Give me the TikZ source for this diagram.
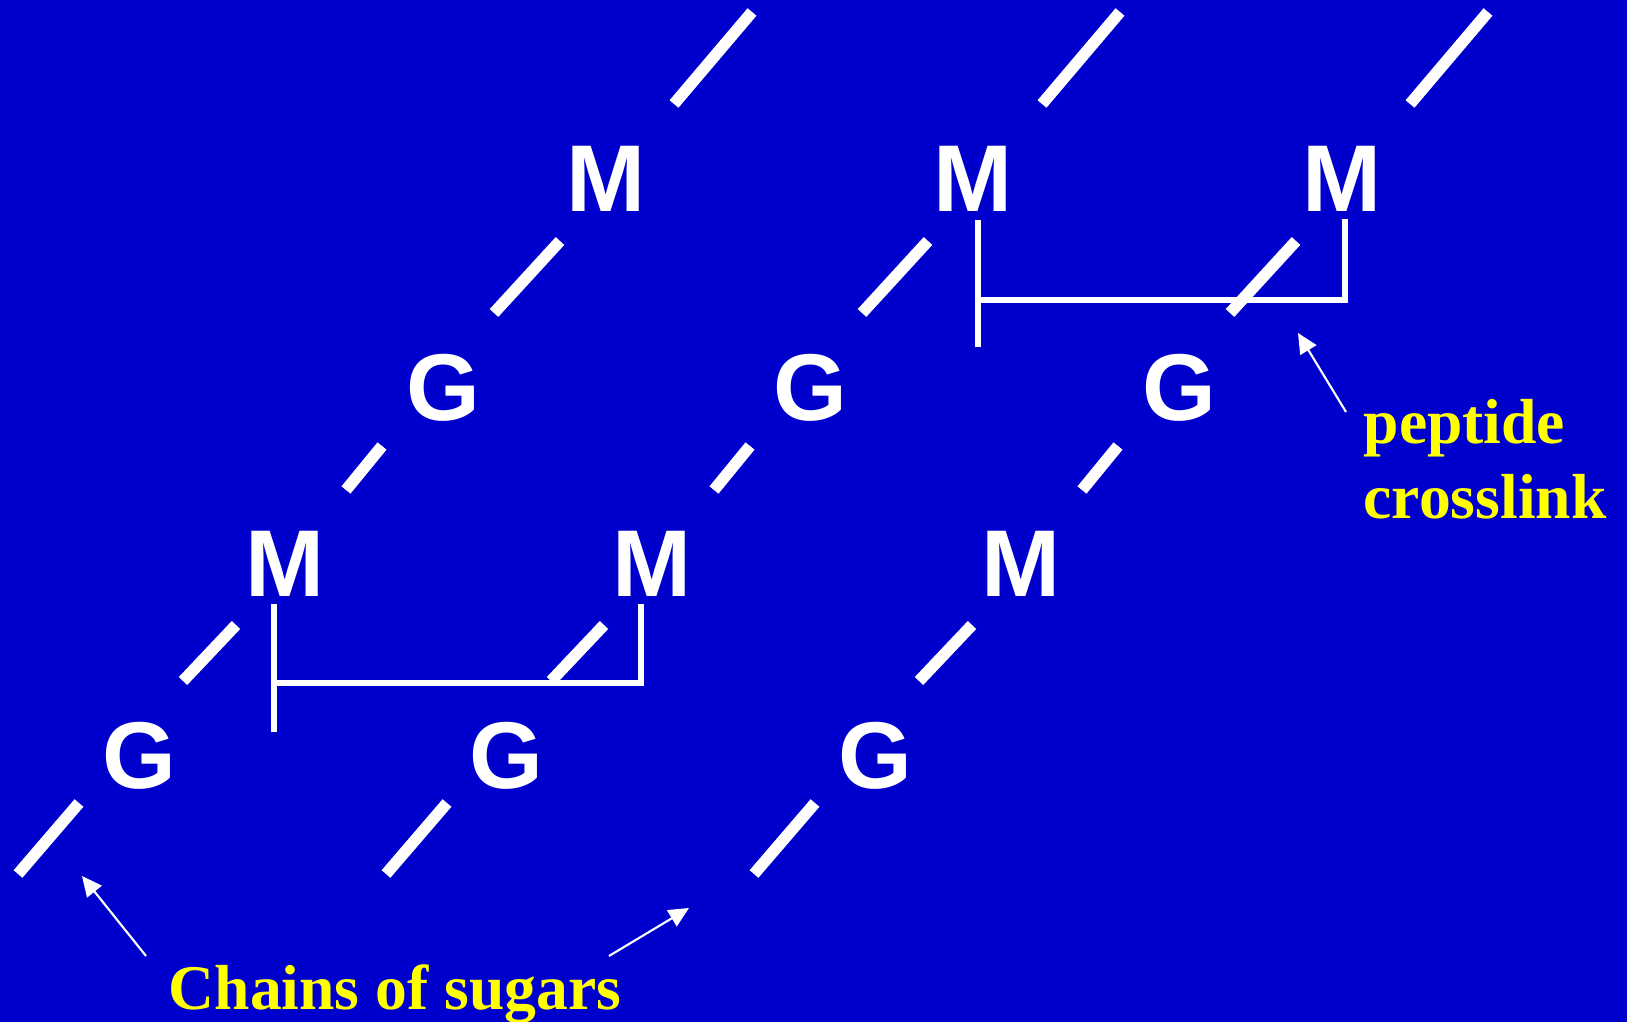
\documentclass[tikz,border=0pt]{standalone}
\usepackage{fontspec}
\setmainfont{Liberation Serif}
\setsansfont{Liberation Sans}
\usetikzlibrary{arrows.meta}
\definecolor{slide}{HTML}{0000CC}
\definecolor{caption}{HTML}{FFFF00}

\begin{document}
\begin{tikzpicture}[x=0.1mm,y=-0.1mm,
  sugar/.style={anchor=base,inner sep=0pt,text=white,font=\sffamily\bfseries\fontsize{27}{32}\selectfont},
  bond/.style={white,line width=3.3pt},
  crosslink/.style={white,line width=1.7pt},
  note/.style={anchor=base west,inner sep=0pt,align=left,text=caption,font=\rmfamily\bfseries\fontsize{18.1}{21.6}\selectfont},
  pointer/.style={white,line width=0.6pt,-{Triangle[length=5.7pt,width=5.3pt]}}]
  % Slide background
  \path[use as bounding box,fill=slide] (0,0) rectangle (1627,1022);

  % Sugar letters, one diagonal chain per column
  \foreach \dx/\c in {0/a,367.5/b,736/c}{
    \node[sugar] (G1\c) at (139+\dx,789) {G};
    \node[sugar] (M1\c) at (285+\dx,597) {M};
    \node[sugar] (G2\c) at (443+\dx,421) {G};
    \node[sugar] (M2\c) at (606+\dx,212) {M};
  }

  % Glycosidic bonds along each chain
  \foreach \dx in {0,368,736}{
    \draw[bond] (18+\dx,874) -- (79+\dx,803);
    \draw[bond] (183+\dx,681) -- (236+\dx,625);
    \draw[bond] (346+\dx,490) -- (382+\dx,446);
    \draw[bond] (494+\dx,313) -- (560+\dx,241);
    \draw[bond] (674+\dx,104) -- (752+\dx,12);
  }

  % Peptide crosslinks
  \draw[crosslink] (274,604) -- (274,732);
  \draw[crosslink] (274,683) -- (641,683) -- (641,604);
  \draw[crosslink] (978,220) -- (978,347);
  \draw[crosslink] (978,300) -- (1345,300) -- (1345,219);

  % Labels
  \node[note] (pep) at (1363,519) {peptide\\crosslink};
  \node[note] (chains) at (168,1009) {Chains of sugars};

  % Pointers
  \coordinate (pepTail) at (1346,412);
  \coordinate (pepTip) at (1298,333);
  \coordinate (chTailL) at (146,956);
  \coordinate (chTipL) at (82,876);
  \coordinate (chTailR) at (609,956);
  \coordinate (chTipR) at (689,908);
  \draw[pointer] (pepTail) -- (pepTip);
  \draw[pointer] (chTailL) -- (chTipL);
  \draw[pointer] (chTailR) -- (chTipR);
\end{tikzpicture}
\end{document}
